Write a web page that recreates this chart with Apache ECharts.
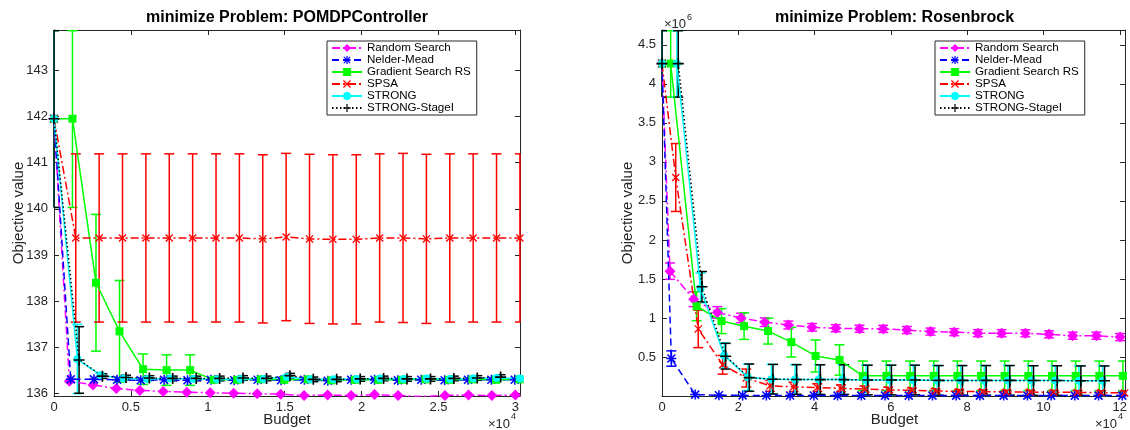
<!DOCTYPE html>
<html><head><meta charset="utf-8">
<script src="https://cdn.jsdelivr.net/npm/echarts@6/dist/echarts.min.js"></script>
<style>html,body{margin:0;padding:0;background:#fff}#c{width:1130px;height:430px}</style>
</head><body><div id="c"></div>
<script>
// ---------- text ----------
const chartTitles = ['minimize Problem: POMDPController', 'minimize Problem: Rosenbrock'];
const algorithms = ['Random Search', 'Nelder-Mead', 'Gradient Search RS', 'SPSA', 'STRONG', 'STRONG-StageI'];
const xAxisTitle = 'Budget';
const yAxisTitle = 'Objective value';

// ---------- left chart: POMDPController ----------
const pomdpRandomX = [0, 1000, 2530, 4050, 5580, 7100, 8630, 10160, 11680, 13210, 14740, 16260, 17790, 19320, 20840, 22370, 23890, 25420, 26950, 28470, 30000];
const pomdpRandomY = [141.95, 136.27, 136.19, 136.11, 136.07, 136.05, 136.03, 136.02, 136.01, 136.00, 135.99, 135.96, 135.97, 135.96, 135.98, 135.96, 135.94, 135.96, 135.97, 135.96, 135.97];

const pomdpNelderX = [0, 1090, 2600, 4100, 5640, 7160, 8680, 10200, 11720, 13240, 14760, 16280, 17800, 19320, 20840, 22360, 23880, 25400, 26920, 28440, 29960];
const pomdpNelderY = [141.95, 136.31, 136.31, 136.30, 136.29, 136.30, 136.29, 136.30, 136.29, 136.30, 136.29, 136.30, 136.28, 136.30, 136.30, 136.29, 136.30, 136.29, 136.30, 136.30, 136.30];

const pomdpGradX = [0, 1200, 2730, 4260, 5790, 7320, 8850, 10380, 11910, 13440, 14970, 16500, 18030, 19560, 21090, 22620, 24150, 25680, 27210, 28740, 30270];
const pomdpGradY = [141.95, 141.95, 138.40, 137.35, 136.53, 136.51, 136.51, 136.30, 136.30, 136.31, 136.30, 136.31, 136.29, 136.30, 136.30, 136.30, 136.31, 136.30, 136.31, 136.30, 136.31];
const pomdpGradErr = [0, 1.92, 1.48, 1.10, 0.33, 0.33, 0.33, 0.03, 0.03, 0.03, 0.03, 0.03, 0.03, 0.03, 0.03, 0.03, 0.03, 0.03, 0.03, 0.03, 0.03];

const pomdpSpsaX = [0, 1415, 2935, 4455, 5975, 7495, 9015, 10535, 12055, 13575, 15095, 16615, 18135, 19655, 21175, 22695, 24215, 25735, 27255, 28775, 30295];
const pomdpSpsaY = [141.95, 139.37, 139.37, 139.37, 139.37, 139.37, 139.37, 139.37, 139.37, 139.35, 139.39, 139.35, 139.34, 139.34, 139.37, 139.37, 139.35, 139.37, 139.37, 139.37, 139.37];
const pomdpSpsaErr = [0, 1.82, 1.82, 1.82, 1.82, 1.82, 1.82, 1.82, 1.82, 1.82, 1.81, 1.83, 1.83, 1.83, 1.82, 1.83, 1.83, 1.82, 1.82, 1.82, 1.82];

const pomdpStrongX = [0, 1520, 3030, 4550, 6060, 7580, 9090, 10610, 12120, 13640, 15150, 16670, 18180, 19700, 21210, 22730, 24240, 25760, 27270, 28790, 30300];
const pomdpStrongY = [141.95, 136.75, 136.40, 136.33, 136.32, 136.33, 136.32, 136.31, 136.32, 136.32, 136.36, 136.31, 136.31, 136.32, 136.33, 136.32, 136.33, 136.32, 136.33, 136.34, 136.33];
const pomdpStrongErr = [1.92, 0.75, 0.04, 0.04, 0.04, 0.04, 0.04, 0.04, 0.04, 0.04, 0.04, 0.04, 0.04, 0.04, 0.04, 0.04, 0.04, 0.04, 0.04, 0.04, 0.04];

const pomdpStageX = [0, 1630, 3150, 4680, 6200, 7720, 9250, 10770, 12290, 13820, 15340, 16860, 18380, 19910, 21430, 22950, 24480, 26000, 27520, 29040];
const pomdpStageY = [141.95, 136.73, 136.38, 136.35, 136.34, 136.33, 136.33, 136.33, 136.34, 136.33, 136.39, 136.31, 136.31, 136.32, 136.33, 136.32, 136.32, 136.33, 136.34, 136.36];
const pomdpStageErr = [1.92, 0.72, 0.05, 0.05, 0.05, 0.05, 0.05, 0.05, 0.05, 0.05, 0.05, 0.05, 0.05, 0.05, 0.05, 0.05, 0.05, 0.05, 0.05, 0.05];

// ---------- right chart: Rosenbrock ----------
const rosenRandomX = [0, 2090, 8300, 14510, 20720, 26930, 33140, 39350, 45560, 51770, 57980, 64190, 70400, 76610, 82820, 89030, 95240, 101450, 107660, 113870, 120080];
const rosenRandomY = [4260000, 1600000, 1240000, 1070000, 1000000, 946000, 910000, 880000, 868000, 862000, 860000, 845000, 825000, 818000, 805000, 805000, 803000, 790000, 773000, 773000, 755000];
const rosenRandomErr = [0, 105000, 95000, 75000, 60000, 55000, 50000, 48000, 45000, 45000, 45000, 45000, 45000, 45000, 45000, 45000, 45000, 45000, 45000, 45000, 45000];

const rosenNelderX = [0, 2450, 8700, 14920, 21140, 27360, 33580, 39800, 46020, 52240, 58460, 64680, 70900, 77120, 83340, 89560, 95780, 102000, 108220, 114440, 120660];
const rosenNelderY = [4260000, 480000, 18000, 10000, 8000, 7000, 6000, 6000, 5000, 5000, 5000, 5000, 5000, 5000, 5000, 5000, 5000, 5000, 5000, 5000, 5000];
const rosenNelderErr = [0, 98000, 0, 0, 0, 0, 0, 0, 0, 0, 0, 0, 0, 0, 0, 0, 0, 0, 0, 0, 0];

const rosenGradX = [0, 2270, 9070, 15600, 21520, 27800, 33900, 40260, 46540, 52630, 58830, 65030, 71230, 77430, 83630, 89830, 96030, 102230, 108430, 114630, 120830];
const rosenGradY = [4260000, 4260000, 1150000, 960000, 895000, 832000, 690000, 513000, 462000, 258000, 258000, 258000, 258000, 258000, 258000, 258000, 258000, 258000, 258000, 258000, 258000];
const rosenGradErr = [0, 430000, 185000, 160000, 170000, 166000, 190000, 205000, 195000, 190000, 190000, 190000, 190000, 190000, 190000, 190000, 190000, 190000, 190000, 190000, 190000];

const rosenSpsaX = [0, 3600, 9500, 15900, 22100, 28300, 34500, 40700, 46900, 53100, 59300, 65500, 71700, 77900, 84100, 90300, 96500, 102700, 108900, 115100, 121300];
const rosenSpsaY = [4260000, 2800000, 860000, 400000, 230000, 130000, 117000, 108000, 98000, 88000, 78000, 73000, 65000, 58000, 56000, 52000, 50000, 48000, 46000, 44000, 40000];
const rosenSpsaErr = [0, 435000, 240000, 120000, 115000, 70000, 60000, 50000, 45000, 40000, 35000, 30000, 28000, 25000, 25000, 25000, 25000, 25000, 25000, 25000, 25000];

const rosenStrongX = [0, 3900, 10100, 16300, 22500, 28700, 34900, 41100, 47300, 53500, 59700, 65900, 72100, 78300, 84500, 90700, 96900, 103100, 109300, 115500];
const rosenStrongY = [4260000, 4260000, 1385000, 520000, 240000, 215000, 212000, 210000, 210000, 205000, 205000, 205000, 200000, 200000, 200000, 200000, 198000, 198000, 196000, 195000];
const rosenStrongErr = [430000, 430000, 190000, 160000, 170000, 190000, 190000, 190000, 190000, 190000, 190000, 190000, 190000, 190000, 190000, 190000, 190000, 190000, 190000, 190000];

const rosenStageX = [0, 4260, 10470, 16680, 22880, 29090, 35300, 41510, 47720, 53930, 60140, 66340, 72550, 78760, 84970, 91180, 97390, 103600, 109800, 116000];
const rosenStageY = [4260000, 4260000, 1400000, 510000, 235000, 215000, 212000, 210000, 210000, 205000, 205000, 205000, 200000, 200000, 200000, 200000, 198000, 198000, 195000, 195000];
const rosenStageErr = [430000, 430000, 195000, 165000, 175000, 190000, 190000, 190000, 190000, 190000, 190000, 190000, 190000, 190000, 190000, 190000, 190000, 190000, 190000, 190000];

// ---------- axis ranges ----------
const pomdpXRange = [0, 30300];
const pomdpYRange = [135.95, 143.87];
const rosenXRange = [0, 121400];
const rosenYRange = [0, 4690000];

// ---------- styles ----------
const FONT = '"Liberation Sans", Arial, Helvetica, sans-serif';
const AX = '#262626';
const LW = 1.5;
const ASTERISK = 'path://M0 8.5H20V11.5H0Z M8.5 0H11.5V20H8.5Z M0.94 3.06L3.06 0.94L19.06 16.94L16.94 19.06Z M16.94 0.94L19.06 3.06L3.06 19.06L0.94 16.94Z';
const XMARK = 'path://M0.94 3.06L3.06 0.94L19.06 16.94L16.94 19.06Z M16.94 0.94L19.06 3.06L3.06 19.06L0.94 16.94Z';
const PLUS = 'path://M0 8.5H20V11.5H0Z M8.5 0H11.5V20H8.5Z';
const DASHDOT = [8, 3, 2, 3];
const styles = [
  {color: '#ff00ff', symbol: 'diamond', size: 11, dash: DASHDOT},
  {color: '#0000ff', symbol: ASTERISK, size: 10, dash: [7, 4]},
  {color: '#00ff00', symbol: 'rect', size: 8, dash: 'solid'},
  {color: '#ff0000', symbol: XMARK, size: 8, dash: DASHDOT},
  {color: '#00ffff', symbol: 'circle', size: 8, dash: 'solid'},
  {color: '#000000', symbol: PLUS, size: 11, dash: [1.5, 2.5]}
];

function errRender(color) {
  return function (params, api) {
    const x = api.value(0), y = api.value(1), e = api.value(2);
    if (!e) return null;
    const cs = params.coordSys;
    const yMin = cs.y, yMax = cs.y + cs.height, xMin = cs.x, xMax = cs.x + cs.width;
    const top = api.coord([x, y + e]), bot = api.coord([x, y - e]);
    const px = top[0];
    const st = {stroke: color, lineWidth: LW, fill: null};
    const ch = [{type: 'line', shape: {x1: px, y1: Math.max(top[1], yMin), x2: px, y2: Math.min(bot[1], yMax)}, style: st}];
    const cx1 = Math.max(px - 5, xMin), cx2 = Math.min(px + 5, xMax);
    if (top[1] >= yMin - 0.6) ch.push({type: 'line', shape: {x1: cx1, y1: Math.max(top[1], yMin + 0.7), x2: cx2, y2: Math.max(top[1], yMin + 0.7)}, style: st});
    if (bot[1] <= yMax + 0.6) ch.push({type: 'line', shape: {x1: cx1, y1: bot[1], x2: cx2, y2: bot[1]}, style: st});
    return {type: 'group', children: ch};
  };
}

const series = [];
function addSeries(gi, k, xs, ys, errs) {
  const s = styles[k];
  series.push({
    type: 'line', name: algorithms[k], xAxisIndex: gi * 2, yAxisIndex: gi * 2,
    data: xs.map((x, i) => [x, ys[i]]),
    symbol: s.symbol, symbolSize: s.size, showSymbol: true,
    lineStyle: {color: s.color, width: LW, type: s.dash},
    itemStyle: {color: s.color, borderWidth: 0},
    emphasis: {disabled: true}, animation: false, silent: true
  });
  if (errs) series.push({
    type: 'custom', xAxisIndex: gi * 2, yAxisIndex: gi * 2,
    data: xs.map((x, i) => [x, ys[i], errs[i]]),
    renderItem: errRender(s.color), animation: false, silent: true
  });
}
addSeries(0, 0, pomdpRandomX, pomdpRandomY, null);
addSeries(0, 1, pomdpNelderX, pomdpNelderY, null);
addSeries(0, 2, pomdpGradX, pomdpGradY, pomdpGradErr);
addSeries(0, 3, pomdpSpsaX, pomdpSpsaY, pomdpSpsaErr);
addSeries(0, 4, pomdpStrongX, pomdpStrongY, pomdpStrongErr);
addSeries(0, 5, pomdpStageX, pomdpStageY, pomdpStageErr);
addSeries(1, 0, rosenRandomX, rosenRandomY, rosenRandomErr);
addSeries(1, 1, rosenNelderX, rosenNelderY, rosenNelderErr);
addSeries(1, 2, rosenGradX, rosenGradY, rosenGradErr);
addSeries(1, 3, rosenSpsaX, rosenSpsaY, rosenSpsaErr);
addSeries(1, 4, rosenStrongX, rosenStrongY, rosenStrongErr);
addSeries(1, 5, rosenStageX, rosenStageY, rosenStageErr);

const grids = [{left: 54, top: 30, width: 466, height: 366}, {left: 662, top: 30, width: 465, height: 366}];

function xAx(gi, pos, range, interval, fmt) {
  return {
    type: 'value', gridIndex: gi, position: pos, min: range[0], max: range[1], interval: interval,
    axisLine: {show: true, onZero: false, lineStyle: {color: AX, width: 1}},
    axisTick: {show: true, inside: true, length: 5, lineStyle: {color: AX}},
    axisLabel: {show: pos === 'bottom', margin: 5, color: AX, fontSize: 13, fontFamily: FONT,
      showMaxLabel: false, formatter: fmt},
    splitLine: {show: false}
  };
}
function yAx(gi, pos, range, extra, fmt) {
  return Object.assign({
    type: 'value', gridIndex: gi, position: pos, min: range[0], max: range[1], scale: true,
    axisLine: {show: true, onZero: false, lineStyle: {color: AX, width: 1}},
    axisTick: {show: true, inside: true, length: 5, lineStyle: {color: AX}},
    axisLabel: {show: pos === 'left', margin: 6, color: AX, fontSize: 13, fontFamily: FONT, formatter: fmt},
    splitLine: {show: false}
  }, extra);
}
const fmtX = v => (Math.abs(v % 5000) < 1e-6 ? String(v / 10000) : '');
const fmtX2 = v => (Math.abs(v % 20000) < 1e-6 ? String(v / 10000) : '');
const fmtY1 = v => (Math.abs(v - Math.round(v)) < 1e-6 && v >= 136 && v <= 143 ? String(Math.round(v)) : '');
const fmtY2 = v => (v > 0 && Math.abs(v % 500000) < 1e-6 ? String(v / 1e6) : '');

const xAxes = [
  xAx(0, 'bottom', pomdpXRange, 5000, fmtX), xAx(0, 'top', pomdpXRange, 5000, fmtX),
  xAx(1, 'bottom', rosenXRange, 20000, fmtX2), xAx(1, 'top', rosenXRange, 20000, fmtX2)
];
const yAxes = [
  yAx(0, 'left', pomdpYRange, {splitNumber: 8}, fmtY1), yAx(0, 'right', pomdpYRange, {splitNumber: 8}, fmtY1),
  yAx(1, 'left', rosenYRange, {interval: 500000}, fmtY2), yAx(1, 'right', rosenYRange, {interval: 500000}, fmtY2)
];

function legendAt(left) {
  return {
    orient: 'vertical', left: left, top: 41, data: algorithms, selectedMode: false,
    itemWidth: 30, itemHeight: 10, itemGap: 0, padding: [1, 6, 1, 4],
    borderColor: AX, borderWidth: 1, backgroundColor: '#fff',
    textStyle: {fontSize: 11.6, color: '#000', fontFamily: FONT}
  };
}

function txt(x, y, text, size, extra) {
  return {type: 'text', x: x, y: y, silent: true, z: 100,
    style: Object.assign({text: text, fill: AX, font: size + 'px ' + FONT, textAlign: 'center', textVerticalAlign: 'middle'}, extra || {})};
}
const graphics = [
  txt(287, 18, chartTitles[0], 16, {fill: '#000', font: 'bold 16px ' + FONT}),
  txt(894.5, 18, chartTitles[1], 16, {fill: '#000', font: 'bold 16px ' + FONT}),
  txt(287, 420, xAxisTitle, 15),
  txt(894.5, 420, xAxisTitle, 15),
  Object.assign(txt(19, 213, yAxisTitle, 15), {rotation: Math.PI / 2}),
  Object.assign(txt(628, 213, yAxisTitle, 15), {rotation: Math.PI / 2}),
  txt(488, 424, '\u00d710', 13, {textAlign: 'left'}),
  txt(511, 417, '4', 9, {textAlign: 'left'}),
  txt(1095, 424, '\u00d710', 13, {textAlign: 'left'}),
  txt(1118, 417, '4', 9, {textAlign: 'left'}),
  txt(664, 24, '\u00d710', 13, {textAlign: 'left'}),
  txt(687, 18, '6', 9, {textAlign: 'left'})
];

const chart = echarts.init(document.getElementById('c'), null, {renderer: 'canvas'});
chart.setOption({
  animation: false,
  backgroundColor: '#fff',
  grid: grids,
  xAxis: xAxes,
  yAxis: yAxes,
  legend: [legendAt(327), legendAt(935)],
  series: series,
  graphic: graphics
});
</script></body></html>
